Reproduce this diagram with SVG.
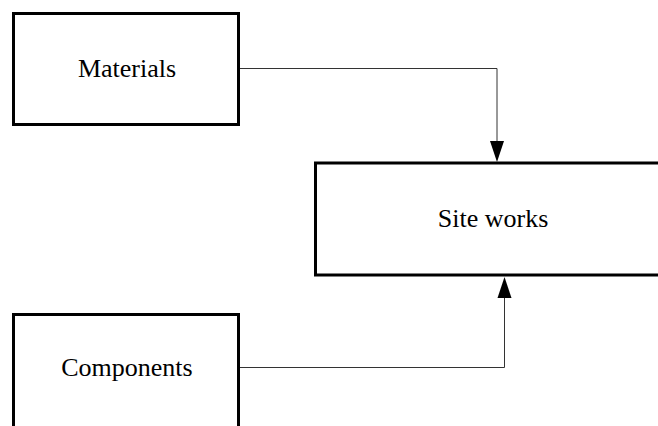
<svg xmlns="http://www.w3.org/2000/svg" width="658" height="426" viewBox="0 0 658 426">
  <style>
    .box { fill: #ffffff; stroke: #000000; stroke-width: 3; }
    .label { font-family: "Liberation Serif", "Times New Roman", serif; font-size: 26px; fill: #000000; text-anchor: middle; }
    .link { fill: none; stroke: #333333; stroke-width: 1; }
    .head { fill: #000000; }
  </style>
  <rect width="658" height="426" fill="#ffffff"/>

  <g id="connectors">
    <path class="link" d="M240,68.5 H497 V141"/>
    <polygon class="head" points="490,141 504,141 497,162"/>
    <path class="link" d="M240,367.5 H504.5 V298"/>
    <polygon class="head" points="497.5,298 511.5,298 504.5,277"/>
  </g>

  <g id="materials">
    <rect class="box" x="13.5" y="13.5" width="225" height="111"/>
    <text class="label" x="127" y="77">Materials</text>
  </g>

  <g id="site-works">
    <rect class="box" x="315.5" y="163" width="360" height="112"/>
    <text class="label" x="493" y="227">Site works</text>
  </g>

  <g id="components">
    <rect class="box" x="13.5" y="314.5" width="225" height="130"/>
    <text class="label" x="127" y="376">Components</text>
  </g>
</svg>
